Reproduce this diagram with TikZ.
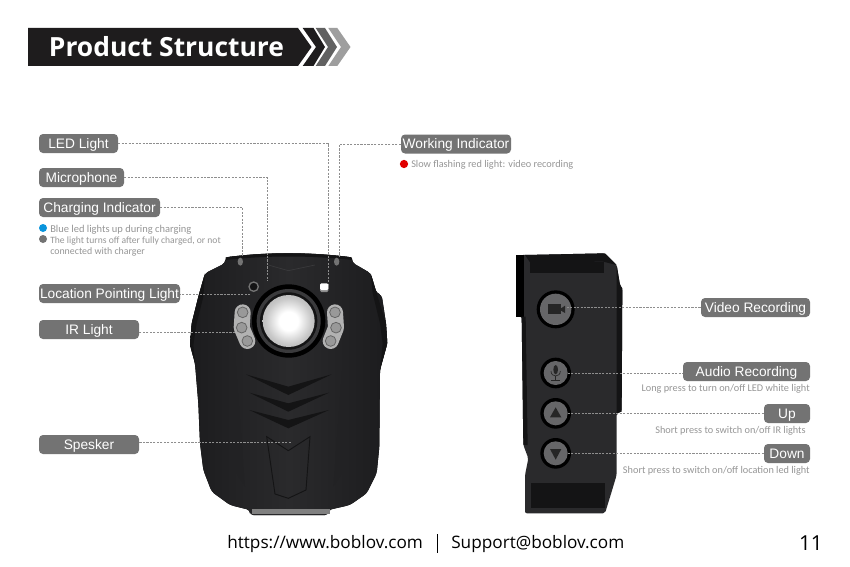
\documentclass[tikz,border=0pt]{standalone}
\usepackage{fontspec}
\setmainfont{Liberation Sans}
\newfontfamily\ttlfont{Open Sans}
\newfontfamily\descfont{Carlito}
\usetikzlibrary{calc}
\definecolor{lblgray}{HTML}{737373}
\definecolor{descgray}{HTML}{969696}
\definecolor{linegray}{HTML}{8E8E8E}
\definecolor{body}{HTML}{2A2A2C}
\definecolor{bodyedge}{HTML}{1C1C1E}
\definecolor{bodydark}{HTML}{141415}
\definecolor{bodymid}{HTML}{3A3A3C}
\definecolor{btnface}{HTML}{666668}
\definecolor{banner}{HTML}{1E1C1D}
\pgfdeclareradialshading{lensglow}{\pgfpoint{0bp}{0bp}}{color(0bp)=(white); color(9bp)=(white); color(22bp)=(black!22); color(40bp)=(black!38); color(50bp)=(black!50)}
\tikzset{
 lbl/.style={fill=lblgray,rounded corners=3pt,text=white,font=\fontsize{10.3}{12}\selectfont,inner sep=0pt,minimum height=14.25pt,text height=7.4pt,text depth=0pt},
 conn/.style={draw=linegray,line width=.55pt,dash pattern=on 1.6pt off 1pt},
 desc/.style={text=descgray,font=\descfont\fontsize{7.7}{9}\selectfont,inner sep=0pt},
 foot/.style={text=black,font=\ttlfont\fontsize{12.9}{15}\selectfont,inner sep=0pt},
 dot/.style={circle,inner sep=0pt,minimum size=6pt},
 fz/.style={shift={(180,240)},x=.25pt,y=-.25pt},
 sz/.style={shift={(505,245)},x=.25pt,y=-.25pt},
}
\begin{document}
\begin{tikzpicture}[x=.75pt,y=-.75pt]
\fill[white] (0,0) rectangle (850,567);
\path[use as bounding box] (0,0) rectangle (850,567);
% Title banner
\fill[banner] (28,28) -- (298,28) -- (311.5,47) -- (298,66) -- (28,66) -- cycle;
\fill[banner] (302.7,28) -- (313.5,28) -- (325,47) -- (313.5,66) -- (302.7,66) -- (316,47) -- cycle;
\fill[black!62] (315.7,28) -- (325,28) -- (337,47) -- (325,66) -- (315.7,66) -- (328,47) -- cycle;
\fill[black!38] (328.3,28) -- (337.3,28) -- (350.5,47) -- (337.3,66) -- (328.3,66) -- (341,47) -- cycle;
\node[text=white,font=\ttlfont\bfseries\fontsize{19.8}{22}\selectfont,inner sep=0pt] (title) at (166.5,47) {Product Structure};
% Front of camera
\begin{scope}[fz]
\fill[rounded corners=2.5pt,left color=bodyedge,right color=bodyedge,middle color=body] (137,52) .. controls (260,36) and (390,36) .. (515,52) -- (517,68) -- (572,100) -- (590,160) -- (605,165) -- (618,250) -- (622,310) -- (600,390) -- (598,620) -- (590,700) -- (560,760) -- (510,795) -- (445,810) -- (445,825) -- (210,825) -- (210,810) -- (150,795) -- (95,755) -- (70,690) -- (60,610) -- (55,490) -- (45,370) -- (30,315) -- (35,250) -- (55,170) -- (75,100) -- (135,70) -- cycle;
\fill[bodydark] (137,52) .. controls (260,36) and (390,36) .. (515,52) -- (517,60) .. controls (390,46) and (260,46) .. (137,60) -- cycle;
\fill[bodydark] (75,100) -- (55,170) -- (35,250) -- (30,315) -- (45,370) -- (40,315) -- (50,250) -- (70,170) -- cycle;
\fill[bodydark] (572,100) -- (590,160) -- (618,250) -- (622,310) -- (600,390) -- (608,310) -- (600,250) -- (578,160) -- cycle;
\fill[bodydark!35!body] (150,340) -- (165,340) -- (195,740) -- (170,700) -- cycle;
\fill[bodydark!35!body] (505,340) -- (490,340) -- (460,740) -- (485,700) -- cycle;
\fill[gray] (215,806) rectangle (450,822);
\fill[lblgray] (181,65) ellipse (8 and 12);
\fill[lblgray] (470,65) ellipse (8 and 12);
\draw[bodymid,line width=.5pt] (265,75) -- (325,92) -- (405,75);
\draw[lblgray,line width=1pt,fill=bodydark] (221,140) circle (14);
\fill[black!45,rounded corners=1pt] (420,135) rectangle (445,156);
\fill[white,rounded corners=1pt] (420,130) rectangle (445,150);
\fill[black] (326,243) circle (110);
\fill[bodymid] (326,243) circle (96);
\fill[bodydark] (326,243) circle (86);
\shade[shading=lensglow] (326,243) circle (78);
\draw[black!30,line width=12pt,line cap=round,line join=round] (188,217) -- (185,263) -- (202,303);
\draw[black!30,line width=12pt,line cap=round,line join=round] (465,217) -- (468,263) -- (452,303);
\foreach \a/\b in {188/217,185/263,202/303,465/217,468/263,452/303}
  \draw[black!60,line width=.6pt,fill=black!40] (\a,\b) circle (16);
\fill[bodydark] (198,403) -- (325,440) -- (455,403) -- (325,465) -- cycle;
\fill[bodydark] (208,458) -- (325,490) -- (447,458) -- (325,515) -- cycle;
\fill[bodydark] (208,510) -- (325,540) -- (447,510) -- (325,565) -- cycle;
\draw[bodydark,line width=.7pt] (260,590) -- (325,632) -- (390,590) -- (378,750) -- (325,775) -- (285,762) -- cycle;
\coordinate (ledpt) at (445,140);
\coordinate (micpt) at (263,124);
\coordinate (chgpt) at (188,50);
\coordinate (locpt) at (211,163);
\coordinate (irpt) at (165,277);
\coordinate (spkpt) at (332,607);
\coordinate (wrkpt) at (478,50);
\end{scope}
% Side of camera
\begin{scope}[sz]
\fill[body,rounded corners=1.5pt] (60,30) -- (300,25) -- (335,60) -- (345,120) -- (352,130) -- (350,500) -- (335,505) -- (335,690) -- (320,740) -- (300,805) -- (60,805) -- (60,690) -- (70,640) -- (55,600) -- (50,215) -- (33,215) -- (33,30) -- cycle;
\fill[black] (33,30) -- (58,30) -- (58,215) -- (33,215) -- cycle;
\fill[bodydark] (60,30) -- (300,25) -- (335,60) -- (295,50) -- (75,52) -- cycle;
\fill[bodydark] (75,52) rectangle (297,85);
\fill[bodydark] (78,715) rectangle (300,790);
\fill[bodydark] (50,215) -- (62,215) -- (68,600) -- (55,600) -- cycle;
\fill[bodydark] (335,60) -- (345,120) -- (352,130) -- (350,500) -- (335,505) -- cycle;
\fill[black] (152,193) circle (57);
\fill[btnface] (152,193) circle (47);
\fill[black!85] (130,178) rectangle (168,206);
\fill[black!85] (168,190) -- (180,182) -- (180,204) -- (168,197) -- cycle;
\fill[black] (152,384) circle (46);
\fill[btnface] (152,384) circle (36);
\fill[black!85] (152,374) ellipse (7 and 14);
\draw[black!85,line width=.5pt] (138,378) .. controls (138,398) and (166,398) .. (166,378);
\draw[black!85,line width=.6pt] (152,392) -- (152,405) (138,406) -- (166,406);
\fill[black] (152,505) circle (46);
\fill[btnface] (152,505) circle (36);
\fill[black!85] (135,517) -- (169,517) -- (152,487) -- cycle;
\fill[black] (152,625) circle (46);
\fill[btnface] (152,625) circle (36);
\fill[black!85] (135,612) -- (169,612) -- (152,644) -- cycle;
\coordinate (vidpt) at (185,187);
\coordinate (audpt) at (188,384);
\coordinate (uppt) at (188,506);
\coordinate (dnpt) at (188,625);
\end{scope}
% Labels
\node[lbl,minimum width=59.25pt] (led) at (78.5,143.5) {LED Light\hspace{5pt}};
\node[lbl,minimum width=63.75pt] (mic) at (81.5,177.5) {Microphone\hspace{3pt}};
\node[lbl,minimum width=90.75pt] (chg) at (99.5,207.5) {Charging Indicator};
\node[lbl,minimum width=105.75pt] (loc) at (109.5,293.5) {Location Pointing Light};
\node[lbl,minimum width=75pt] (ir) at (89,329.5) {IR Light};
\node[lbl,minimum width=75pt] (spk) at (89,444.5) {Spesker};
\node[lbl,minimum width=82.5pt] (wrk) at (456,144) {Working Indicator};
\node[lbl,minimum width=81.75pt] (vid) at (755.5,307.5) {Video Recording};
\node[lbl,minimum width=95.25pt] (aud) at (746.5,371.5) {Audio Recording};
\node[lbl,minimum width=34.5pt] (up) at (787,413.5) {Up};
\node[lbl,minimum width=34.5pt] (dn) at (787,453.5) {Down};
% Connectors
\draw[conn] (led.east) -| (ledpt);
\draw[conn] (mic.east) -| (micpt);
\draw[conn] (chg.east) -| (chgpt);
\draw[conn] (locpt) -- (locpt -| loc.east);
\draw[conn] (irpt) -- (irpt -| ir.east);
\draw[conn] (spkpt) -- (spkpt -| spk.east);
\draw[conn] (wrk.west) -| (wrkpt);
\draw[conn] (vidpt) -- (vidpt -| vid.west);
\draw[conn] (audpt) -- (audpt -| aud.west);
\draw[conn] (uppt) -- (uppt -| up.west);
\draw[conn] (dnpt) -- (dnpt -| dn.west);
% Descriptions
\node[dot,fill=red!88!black,minimum size=6.2pt] (rd) at (404,164) {};
\node[desc,anchor=west] (d1) at (411,165) {Slow flashing red light: video recording};
\node[dot,fill=cyan!80!blue] (bl) at (43,228) {};
\node[dot,fill=lblgray] (gr) at (43,239) {};
\node[desc,anchor=west,font=\descfont\fontsize{7.85}{9}\selectfont] (d2) at (50,229.5) {Blue led lights up during charging};
\node[desc,anchor=west,font=\descfont\fontsize{7.2}{9}\selectfont] (d3) at (50,241) {The light turns off after fully charged, or not};
\node[desc,anchor=west,font=\descfont\fontsize{7.4}{9}\selectfont] (d4) at (50,251.5) {connected with charger};
\node[desc,anchor=east] (d5) at (810,389) {Long press to turn on/off LED white light};
\node[desc,anchor=east] (d6) at (806,430.5) {Short press to switch on/off IR lights};
\node[desc,anchor=east] (d7) at (810,470.5) {Short press to switch on/off location led light};
% Footer
\node[foot,anchor=west] (f1) at (227,544.5) {https://www.boblov.com};
\node[foot,anchor=west] (f2) at (451,544.5) {Support@boblov.com};
\node[foot,anchor=east,font=\ttlfont\fontsize{15.5}{17}\selectfont] (f3) at (823,543) {11};
\draw[black,line width=.5pt] (437,534) -- (437,553);
\end{tikzpicture}
\end{document}
